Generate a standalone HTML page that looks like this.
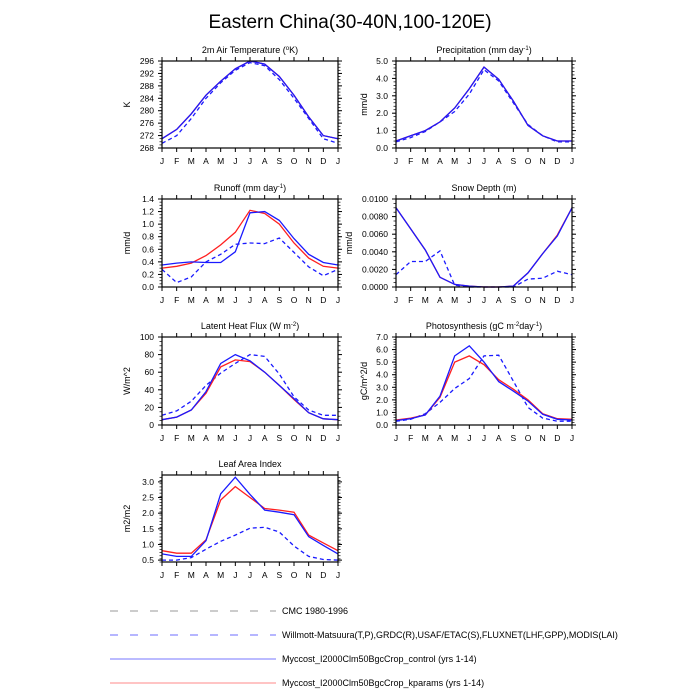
<!DOCTYPE html>
<html><head><meta charset="utf-8"><style>
html,body{margin:0;padding:0;background:#fff;width:700px;height:700px;overflow:hidden}
svg{font-family:"Liberation Sans",sans-serif}
</style></head><body>
<svg id="s" width="700" height="700" xmlns="http://www.w3.org/2000/svg">
<text x="350" y="28" font-size="19" text-anchor="middle">Eastern China(30-40N,100-120E)</text>
<g stroke-width="1">
<line x1="110" y1="611" x2="276" y2="611" stroke="#999" stroke-dasharray="8,12"/>
<line x1="110" y1="635" x2="276" y2="635" stroke="#6d6dff" stroke-dasharray="8,12"/>
<line x1="110" y1="659" x2="276" y2="659" stroke="#7777ff"/>
<line x1="110" y1="683" x2="276" y2="683" stroke="#ff8888"/>
</g>
<g font-size="9">
<text x="282" y="614">CMC 1980-1996</text>
<text x="282" y="638">Willmott-Matsuura(T,P),GRDC(R),USAF/ETAC(S),FLUXNET(LHF,GPP),MODIS(LAI)</text>
<text x="282" y="662">Myccost_I2000Clm50BgcCrop_control (yrs 1-14)</text>
<text x="282" y="686">Myccost_I2000Clm50BgcCrop_kparams (yrs 1-14)</text>
</g>
</svg>
<script>
const S=document.getElementById('s');const NS='http://www.w3.org/2000/svg';
function el(t,a,txt){const e=document.createElementNS(NS,t);for(const k in a)e.setAttribute(k,a[k]);if(txt!=null)e.innerHTML=txt;S.appendChild(e);return e;}
const M=['J','F','M','A','M','J','J','A','S','O','N','D','J'];
function panel(p){
 const {x0,x1,y0,y1,lo,hi,ticks,fmt,title,ylab,lines,minor}=p;
 const X=i=>x0+(x1-x0)*i/12, Y=v=>y1-(y1-y0)*(v-lo)/(hi-lo);
 el('text',{x:(x0+x1)/2,y:y0-8,'font-size':9,'text-anchor':'middle'},title);
 for(const L of lines){
  el('polyline',{points:L.d.map((v,i)=>X(i).toFixed(1)+','+Y(v).toFixed(1)).join(' '),fill:'none',stroke:L.c,'stroke-width':1.3,'stroke-dasharray':L.dash?'4,3':'none'});
 }
 el('rect',{x:x0,y:y0,width:x1-x0,height:y1-y0,fill:'none',stroke:'#000','stroke-width':1.2});
 for(let i=0;i<=12;i++){const x=X(i);
  el('line',{x1:x,y1:y1,x2:x,y2:y1+4,stroke:'#000'});
  el('line',{x1:x,y1:y0,x2:x,y2:y0-4,stroke:'#000'});
  el('text',{x:x,y:y1+16,'font-size':8.5,'text-anchor':'middle'},M[i]);}
 for(const t of ticks){const y=Y(t);
  el('line',{x1:x0-4,y1:y,x2:x0,y2:y,stroke:'#000'});
  el('line',{x1:x1,y1:y,x2:x1+4,y2:y,stroke:'#000'});
  el('text',{x:x0-8,y:y+3,'font-size':8.5,'text-anchor':'end'},t.toFixed(fmt));}
 const st=(ticks[1]-ticks[0])/minor;
 for(let v=lo;v<=hi+1e-9;v+=st){const y=Y(v);if(y<y0-0.5)continue;
  el('line',{x1:x0-2.5,y1:y,x2:x0,y2:y,stroke:'#000','stroke-width':0.7});
  el('line',{x1:x1,y1:y,x2:x1+2.5,y2:y,stroke:'#000','stroke-width':0.7});}
 const lx=p.lx;const cy=(y0+y1)/2;
 el('text',{x:lx,y:cy,'font-size':9,'text-anchor':'middle',transform:`rotate(-90 ${lx} ${cy})`},ylab);
}
const B='#1a1aff',R='#ff2020';
const L0=162,L1=338,R0=396,R1=572;
const rows=[[61,148],[199,287],[337,425],[475,562]];
const r=n=>Array.from({length:(n[1]-n[0])/n[2]+1.0001|0},(_,i)=>+(n[0]+i*n[2]).toFixed(5));
let tc=[271,274,279,285,289.5,293.5,296,295,291,285,278,272,271];
panel({x0:L0,x1:L1,y0:rows[0][0],y1:rows[0][1],lo:268,hi:296,ticks:r([268,296,4]),fmt:0,minor:4,lx:130,
 title:'2m Air Temperature (<tspan font-size="6" dy="-3">o</tspan><tspan dy="3">K)</tspan>',ylab:'K',
 lines:[{d:[269.5,272,277.5,284,289,293,295.5,294.5,290,284,277.5,271,269.5],c:B,dash:1},{d:tc,c:R},{d:tc,c:B}]});
let pc=[0.4,0.7,1.0,1.5,2.3,3.4,4.65,3.95,2.7,1.3,0.7,0.4,0.4];
panel({x0:R0,x1:R1,y0:rows[0][0],y1:rows[0][1],lo:0,hi:5,ticks:r([0,5,1]),fmt:1,minor:5,lx:367,
 title:'Precipitation (mm day<tspan font-size="6" dy="-3">-1</tspan><tspan dy="3">)</tspan>',ylab:'mm/d',
 lines:[{d:[0.35,0.6,0.95,1.5,2.1,3.1,4.5,3.85,2.6,1.35,0.7,0.35,0.35],c:B,dash:1},{d:pc,c:R},{d:pc,c:B}]});
panel({x0:L0,x1:L1,y0:rows[1][0],y1:rows[1][1],lo:0,hi:1.4,ticks:r([0,1.4,0.2]),fmt:1,minor:4,lx:130,
 title:'Runoff (mm day<tspan font-size="6" dy="-3">-1</tspan><tspan dy="3">)</tspan>',ylab:'mm/d',
 lines:[{d:[0.28,0.07,0.16,0.4,0.52,0.68,0.7,0.69,0.78,0.55,0.32,0.18,0.28],c:B,dash:1},
 {d:[0.3,0.33,0.38,0.5,0.67,0.87,1.22,1.17,1.0,0.7,0.46,0.33,0.3],c:R},
 {d:[0.35,0.38,0.4,0.39,0.39,0.56,1.18,1.2,1.06,0.77,0.52,0.39,0.35],c:B}]});
let sd=[0.009,0.0066,0.0042,0.0011,0.0003,0.0001,0,0,0.0001,0.0016,0.0038,0.0058,0.009];
panel({x0:R0,x1:R1,y0:rows[1][0],y1:rows[1][1],lo:0,hi:0.01,ticks:r([0,0.01,0.002]),fmt:4,minor:4,lx:352,
 title:'Snow Depth (m)',ylab:'mm/d',
 lines:[{d:[0.0014,0.0029,0.0029,0.0041,0.0002,0,0,0,0,0.0009,0.001,0.0018,0.0014],c:B,dash:1},{d:sd.map((v,i)=>i==11?v+0.0001:v),c:R},{d:sd,c:B}]});
panel({x0:L0,x1:L1,y0:rows[2][0],y1:rows[2][1],lo:0,hi:100,ticks:r([0,100,20]),fmt:0,minor:4,lx:130,
 title:'Latent Heat Flux (W m<tspan font-size="6" dy="-3">-2</tspan><tspan dy="3">)</tspan>',ylab:'W/m^2',
 lines:[{d:[11,16,27,45,59,70,80,78,58,32,17,11,11],c:B,dash:1},
 {d:[6,9,17,36,66,74,72,60,45,29,14,7,6],c:R},
 {d:[6,9,17,38,70,80,73,60,45,30,14,7,6],c:B}]});
panel({x0:R0,x1:R1,y0:rows[2][0],y1:rows[2][1],lo:0,hi:7,ticks:r([0,7,1]),fmt:1,minor:5,lx:367,
 title:'Photosynthesis (gC m<tspan font-size="6" dy="-3">-2</tspan><tspan dy="3">day</tspan><tspan font-size="6" dy="-3">-1</tspan><tspan dy="3">)</tspan>',ylab:'gC/m^2/d',
 lines:[{d:[0.3,0.45,0.9,1.8,2.9,3.7,5.5,5.55,3.5,1.4,0.55,0.3,0.3],c:B,dash:1},
 {d:[0.4,0.55,0.8,2.2,5.0,5.5,4.8,3.6,2.85,2.0,0.9,0.5,0.45],c:R},
 {d:[0.35,0.5,0.8,2.3,5.5,6.3,5.0,3.45,2.7,1.9,0.85,0.45,0.4],c:B}]});
panel({x0:L0,x1:L1,y0:rows[3][0],y1:rows[3][1],lo:0.44,hi:3.22,ticks:r([0.5,3.0,0.5]),fmt:1,minor:5,lx:130,
 title:'Leaf Area Index',ylab:'m2/m2',
 lines:[{d:[0.5,0.5,0.58,0.85,1.1,1.3,1.52,1.55,1.4,0.95,0.62,0.52,0.5],c:B,dash:1},
 {d:[0.8,0.72,0.72,1.15,2.42,2.85,2.5,2.15,2.1,2.03,1.3,1.05,0.8],c:R},
 {d:[0.7,0.62,0.62,1.12,2.62,3.15,2.6,2.1,2.03,1.95,1.25,0.97,0.7],c:B}]});
</script>
</body></html>
